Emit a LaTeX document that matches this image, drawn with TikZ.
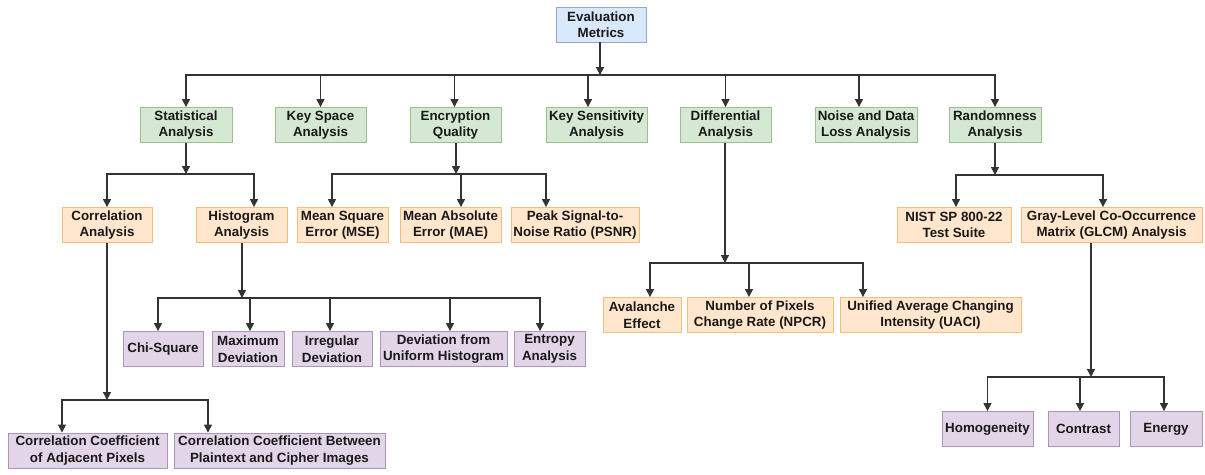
\documentclass[tikz,border=0pt]{standalone}
\usepackage{fontspec}
\setmainfont{Liberation Sans}
\usepackage{xcolor}
\usepackage{tikz}
\usetikzlibrary{shapes,arrows.meta,positioning,calc}

\definecolor{bluefill}{HTML}{DAE8FC}
\definecolor{blueline}{HTML}{8FA9D0}
\definecolor{greenfill}{HTML}{D5E8D4}
\definecolor{greenline}{HTML}{9DC08B}
\definecolor{orangefill}{HTML}{FFE6CC}
\definecolor{orangeline}{HTML}{F0C07A}
\definecolor{purplefill}{HTML}{E1D5E7}
\definecolor{purpleline}{HTML}{AD94B9}
\definecolor{edgegray}{HTML}{333333}

\begin{document}
\begin{tikzpicture}[x=0.02cm, y=-0.02cm,
    block/.style={rectangle, draw, text centered, align=center, font=\fontsize{7.6}{9.4}\selectfont\bfseries, text=black!90, minimum height=0.7cm, inner xsep=1pt, inner ysep=1pt, line width=0.5pt},
    topbox/.style={block, fill=bluefill, draw=blueline},
    groupbox/.style={block, fill=greenfill, draw=greenline},
    methodbox/.style={block, fill=orangefill, draw=orangeline},
    metricbox/.style={block, fill=purplefill, draw=purpleline},
    line/.style={draw=edgegray, line width=0.75pt, -{Triangle[length=4.5pt,width=4.5pt]}}]

    \useasboundingbox (0,0) rectangle (1205,475);

    % root
    \node [topbox, minimum width=1.8cm] (top) at (601,24.5) {Evaluation\\Metrics};

    % analysis groups
    \node [groupbox, minimum width=1.84cm] (stat) at (186,125) {Statistical\\Analysis};
    \node [groupbox, minimum width=1.82cm] (keyspace) at (320.5,125) {Key Space\\Analysis};
    \node [groupbox, minimum width=1.82cm] (encq) at (455.5,125) {Encryption\\Quality};
    \node [groupbox, minimum width=2.02cm] (keysens) at (596.5,125) {Key Sensitivity\\Analysis};
    \node [groupbox, minimum width=1.82cm] (diff) at (725.5,125) {Differential\\Analysis};
    \node [groupbox, minimum width=2.04cm] (noise) at (866,125) {Noise and Data\\Loss Analysis};
    \node [groupbox, minimum width=1.84cm] (rand) at (995,125) {Randomness\\Analysis};

    % methods
    \node [methodbox, minimum width=1.8cm] (corr) at (107,225) {Correlation\\Analysis};
    \node [methodbox, minimum width=1.82cm] (hist) at (241.5,225) {Histogram\\Analysis};
    \node [methodbox, minimum width=1.82cm] (mse) at (342.5,225) {Mean Square\\Error (MSE)};
    \node [methodbox, minimum width=2.02cm] (mae) at (450.5,225) {Mean Absolute\\Error (MAE)};
    \node [methodbox, minimum width=2.56cm] (psnr) at (575,225) {Peak Signal-to-\\Noise Ratio (PSNR)};
    \node [methodbox, minimum width=2.28cm] (nist) at (954,225) {NIST SP 800-22\\Test Suite};
    \node [methodbox, minimum width=3.62cm] (glcm) at (1111.5,225) {Gray-Level Co-Occurrence\\Matrix (GLCM) Analysis};

    \node [methodbox, minimum width=1.56cm] (aval) at (642,315) {Avalanche\\Effect};
    \node [methodbox, minimum width=2.92cm] (npcr) at (760,315) {Number of Pixels\\Change Rate (NPCR)};
    \node [methodbox, minimum width=3.62cm] (uaci) at (930.5,315) {Unified Average Changing\\Intensity (UACI)};

    % metrics
    \node [metricbox, minimum width=1.6cm] (chi) at (163,349) {Chi-Square};
    \node [metricbox, minimum width=1.44cm] (maxdev) at (248,349) {Maximum\\Deviation};
    \node [metricbox, minimum width=1.6cm] (irreg) at (332,349) {Irregular\\Deviation};
    \node [metricbox, minimum width=2.54cm] (devuni) at (443.5,349) {Deviation from\\Uniform Histogram};
    \node [metricbox, minimum width=1.42cm] (entropy) at (549.5,349) {Entropy\\Analysis};

    \node [metricbox, minimum width=1.82cm] (homog) at (987.5,429) {Homogeneity};
    \node [metricbox, minimum width=1.42cm] (contrast) at (1083.5,429) {Contrast};
    \node [metricbox, minimum width=1.44cm] (energy) at (1166,429) {Energy};

    \node [metricbox, minimum width=3.18cm] (ccadj) at (87.5,450.5) {Correlation Coefficient\\of Adjacent Pixels};
    \node [metricbox, minimum width=4.22cm] (ccbetw) at (279.5,450.5) {Correlation Coefficient Between\\Plaintext and Cipher Images};

    % junctions
    \coordinate (jtop) at (600,75);
    \coordinate (jstat) at (186,174);
    \coordinate (jenc) at (456,174);
    \coordinate (jrand) at (995,175);
    \coordinate (jdiff) at (725,263);
    \coordinate (jhist) at (242,298);
    \coordinate (jglcm) at (1091,377);
    \coordinate (jcorr) at (107,400);

    \path [line] (top.south -| jtop) -- (jtop);
    \path [line] (jtop) -| (stat);
    \path [line] (jtop) -| (keyspace);
    \path [line] (jtop) -| ($(encq.north)+(-1,0)$);
    \path [line] (jtop) -| ($(keysens.north)+(-8.5,0)$);
    \path [line] (jtop) -| (diff);
    \path [line] (jtop) -| ($(noise.north)+(-7,0)$);
    \path [line] (jtop) -| (rand);

    \path [line] (stat.south -| jstat) -- (jstat);
    \path [line] (jstat) -| (corr);
    \path [line] (jstat) -| ($(hist.north)+(12.5,0)$);

    \path [line] (encq.south -| jenc) -- (jenc);
    \path [line] (jenc) -| ($(mse.north)+(-10.5,0)$);
    \path [line] (jenc) -| ($(mae.north)+(10.5,0)$);
    \path [line] (jenc) -| ($(psnr.north)+(-29,0)$);

    \path [line] (rand.south -| jrand) -- (jrand);
    \path [line] (jrand) -| ($(nist.north)+(2,0)$);
    \path [line] (jrand) -| ($(glcm.north)+(-8.5,0)$);

    \path [line] (diff.south -| jdiff) -- (jdiff);
    \path [line] (jdiff) -| ($(aval.north)+(8,0)$);
    \path [line] (jdiff) -| ($(npcr.north)+(-11,0)$);
    \path [line] (jdiff) -| ($(uaci.north)+(-67.5,0)$);

    \path [line] (hist.south -| jhist) -- (jhist);
    \path [line] (jhist) -| ($(chi.north)+(-5,0)$);
    \path [line] (jhist) -| ($(maxdev.north)+(2,0)$);
    \path [line] (jhist) -| ($(irreg.north)+(-2,0)$);
    \path [line] (jhist) -| ($(devuni.north)+(6.5,0)$);
    \path [line] (jhist) -| ($(entropy.north)+(-9.5,0)$);

    \path [line] (glcm.south -| jglcm) -- (jglcm);
    \path [line] (jglcm) -| (homog);
    \path [line] (jglcm) -| ($(contrast.north)+(-3.5,0)$);
    \path [line] (jglcm) -| ($(energy.north)+(-2,0)$);

    \path [line] (corr.south -| jcorr) -- (jcorr);
    \path [line] (jcorr) -| ($(ccadj.north)+(-25.5,0)$);
    \path [line] (jcorr) -| ($(ccbetw.north)+(-71.5,0)$);
\end{tikzpicture}
\end{document}
